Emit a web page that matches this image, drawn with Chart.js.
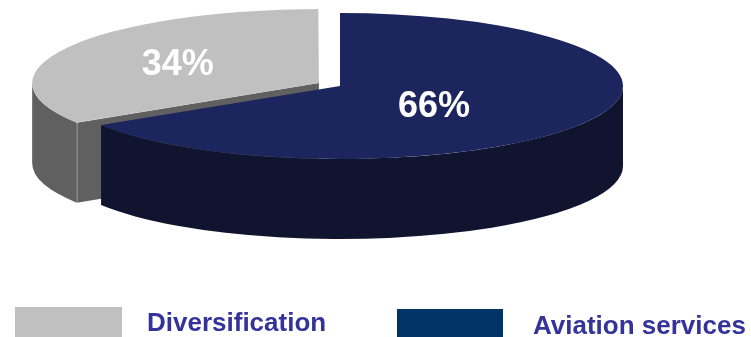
<!DOCTYPE html>
<html>
<head>
<meta charset="utf-8">
<script src="https://cdn.jsdelivr.net/npm/chart.js@4/dist/chart.umd.min.js"></script>
<style>
  html, body { margin: 0; padding: 0; background: #ffffff; }
  #wrap { width: 751px; height: 337px; position: relative; }
  canvas { display: block; }
</style>
</head>
<body>
<div id="wrap"><canvas id="chart" width="751" height="337"></canvas></div>
<script>
// Revenue split by business line
const categories = ['Aviation services', 'Diversification'];
const shares = [66, 34];
const shareLabels = ['66%', '34%'];
const legendOrder = [1, 0];

// Styling
const topColors = ['#1c255e', '#c0c0c0'];
const wallColors = ['#10142f', '#606060'];
const swatchColors = ['#003366', '#c0c0c0'];
const explode = [0, 34];

// Projection of the flat pie onto a tilted disc
const VIEW = { cx: 340, cy: 86, rx: 283, ry: 73, depth: 80 };
const BASE_RADIUS = 100;
const SX = VIEW.rx / BASE_RADIUS;
const SY = VIEW.ry / BASE_RADIUS;

// label anchors, in fractions of the disc radii from each slice centre
const labelAnchors = [[0.332, 0.247], [-0.492, -0.282]];

// legend slots: swatch rect and text origin for each entry shown
const legendSlots = [
  { box: [15, 307, 107, 30], text: [147, 331] },
  { box: [397, 309, 106, 28], text: [533, 334] }
];

function sliceGeometry(el) {
  const offset = (el.options.offset || 0) / 4;
  const circ = el.endAngle - el.startAngle;
  const fix = 1 - Math.sin(Math.min(Math.PI, circ));
  const mid = (el.startAngle + el.endAngle) / 2;
  const r = el.outerRadius + offset * fix;
  return {
    cx: VIEW.cx + Math.cos(mid) * offset * SX,
    cy: VIEW.cy + Math.sin(mid) * offset * SY,
    rx: r * SX,
    ry: r * SY,
    start: el.startAngle,
    end: el.endAngle
  };
}

function frontIntervals(a0, a1) {
  const out = [];
  for (let k = -1; k <= 2; k++) {
    const lo = Math.max(a0, k * 2 * Math.PI);
    const hi = Math.min(a1, k * 2 * Math.PI + Math.PI);
    if (hi > lo + 1e-6) out.push([lo, hi]);
  }
  return out;
}

const pie3d = {
  id: 'pie3d',
  beforeDatasetsDraw(chart) {
    const ctx = chart.ctx;
    const arcs = chart.getDatasetMeta(0).data;
    const d = VIEW.depth;
    const geo = arcs.map(sliceGeometry);

    // cut faces turned toward the viewer
    geo.forEach((g, i) => {
      [[g.start, Math.cos(g.start) < -1e-3], [g.end, Math.cos(g.end) > 1e-3]].forEach(([a, visible]) => {
        if (!visible) return;
        const px = g.cx + g.rx * Math.cos(a);
        const py = g.cy + g.ry * Math.sin(a);
        ctx.beginPath();
        ctx.moveTo(g.cx, g.cy);
        ctx.lineTo(px, py);
        ctx.lineTo(px, py + d);
        ctx.lineTo(g.cx, g.cy + d);
        ctx.closePath();
        ctx.fillStyle = wallColors[i];
        ctx.fill();
      });
    });

    // outer walls, back slices first
    const order = geo.map((g, i) => i).sort((a, b) => geo[a].cy - geo[b].cy);
    order.forEach(i => {
      const g = geo[i];
      frontIntervals(g.start, g.end).forEach(([t0, t1]) => {
        ctx.beginPath();
        ctx.ellipse(g.cx, g.cy, g.rx, g.ry, 0, t0, t1, false);
        ctx.lineTo(g.cx + g.rx * Math.cos(t1), g.cy + g.ry * Math.sin(t1) + d);
        ctx.ellipse(g.cx, g.cy + d, g.rx, g.ry, 0, t1, t0, true);
        ctx.closePath();
        ctx.fillStyle = wallColors[i];
        ctx.fill();
        // light crease where the wall meets a visible cut face
        [t0, t1].forEach(t => {
          const onStart = Math.abs(t - g.start) < 1e-6 && Math.cos(t) < -1e-3;
          const onEnd = Math.abs(t - g.end) < 1e-6 && Math.cos(t) > 1e-3;
          if (!onStart && !onEnd) return;
          const x = Math.round(g.cx + g.rx * Math.cos(t)) + 0.5;
          const y = g.cy + g.ry * Math.sin(t);
          ctx.beginPath();
          ctx.moveTo(x, y);
          ctx.lineTo(x, y + d);
          ctx.strokeStyle = 'rgba(255,255,255,0.25)';
          ctx.lineWidth = 1;
          ctx.stroke();
        });
      });
    });

    // tilt the library's own slice drawing into the disc plane
    const c = arcs[0];
    ctx.save();
    ctx.translate(VIEW.cx, VIEW.cy);
    ctx.scale(SX, SY);
    ctx.translate(-c.x, -c.y);
  },
  afterDatasetsDraw(chart) {
    const ctx = chart.ctx;
    ctx.restore();
    const arcs = chart.getDatasetMeta(0).data;
    ctx.save();
    ctx.fillStyle = '#ffffff';
    ctx.font = 'bold 36px "Liberation Sans", Arial, sans-serif';
    ctx.textAlign = 'center';
    ctx.textBaseline = 'alphabetic';
    arcs.forEach((el, i) => {
      const g = sliceGeometry(el);
      const [fx, fy] = labelAnchors[i];
      const x = g.cx + fx * g.rx;
      const y = g.cy + fy * g.ry;
      ctx.fillText(shareLabels[i], x, y + 13);
    });
    ctx.restore();
  },
  afterDraw(chart) {
    const ctx = chart.ctx;
    ctx.save();
    ctx.font = 'bold 26px "Liberation Sans", Arial, sans-serif';
    ctx.textBaseline = 'alphabetic';
    ctx.textAlign = 'left';
    legendOrder.forEach((idx, slot) => {
      const s = legendSlots[slot];
      ctx.fillStyle = swatchColors[idx];
      ctx.fillRect(s.box[0], s.box[1], s.box[2], s.box[3]);
      ctx.fillStyle = '#333399';
      ctx.fillText(chart.data.labels[idx], s.text[0], s.text[1]);
    });
    ctx.restore();
  }
};

new Chart(document.getElementById('chart'), {
  type: 'pie',
  data: {
    labels: categories,
    datasets: [{
      data: shares,
      backgroundColor: topColors,
      borderWidth: 0,
      offset: explode
    }]
  },
  options: {
    responsive: false,
    animation: false,
    events: [],
    radius: BASE_RADIUS,
    rotation: 0,
    layout: { padding: 0 },
    plugins: {
      legend: { display: false },
      tooltip: { enabled: false }
    }
  },
  plugins: [pie3d]
});
</script>
</body>
</html>
